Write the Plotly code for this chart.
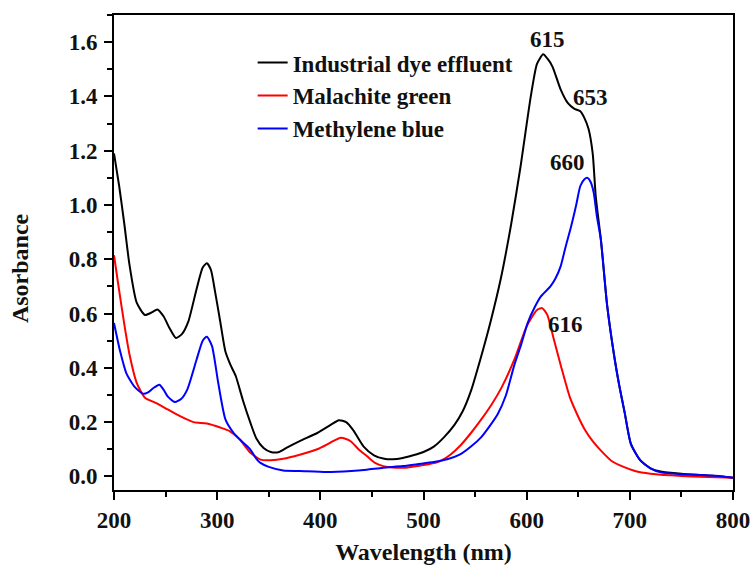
import plotly.graph_objects as go

# ---- data ----
wl_dye = [200, 205, 210, 215, 222, 230, 237, 242, 248, 254, 260, 266, 272, 280, 286, 290, 294, 298, 303, 308,
          313, 318, 325, 332, 338, 345, 352, 360, 368, 380, 397, 410, 418, 425, 432, 442, 452, 462, 470, 480,
          490, 500, 510, 520, 530, 538, 546, 555, 565, 575, 585, 594, 604, 610, 616, 620, 625, 633, 640, 646,
          652, 656, 660, 664, 667, 672, 678, 685, 690, 695, 701, 710, 720, 730, 750, 770, 790, 800]
abs_dye = [1.19, 1.07, 0.93, 0.78, 0.64, 0.595, 0.605, 0.615, 0.59, 0.545, 0.51, 0.525, 0.57, 0.69, 0.77, 0.785, 0.76, 0.68, 0.57, 0.46,
           0.41, 0.37, 0.28, 0.20, 0.14, 0.105, 0.09, 0.09, 0.107, 0.13, 0.16, 0.19, 0.207, 0.20, 0.17, 0.11, 0.078, 0.065, 0.063, 0.068,
           0.078, 0.09, 0.11, 0.145, 0.19, 0.24, 0.315, 0.43, 0.57, 0.73, 0.93, 1.14, 1.40, 1.52, 1.555, 1.54, 1.51, 1.425, 1.375, 1.355,
           1.345, 1.32, 1.28, 1.19, 1.03, 0.87, 0.63, 0.44, 0.33, 0.235, 0.12, 0.06, 0.03, 0.018, 0.01, 0.005, 0.0, -0.005]

wl_mg = [200, 204, 210, 215, 222, 230, 241, 252, 264, 277, 290, 303, 312, 322, 332, 342, 352, 364, 380, 397,
         410, 419, 425, 430, 437, 445, 453, 461, 470, 481, 497, 505, 513, 518, 526, 536, 546, 556, 566, 576,
         588, 600, 610, 615, 620, 626, 633, 642, 650, 656, 664, 672, 682, 694, 705, 720, 740, 760, 800]
abs_mg = [0.815, 0.71, 0.56, 0.45, 0.345, 0.29, 0.27, 0.247, 0.222, 0.20, 0.195, 0.18, 0.167, 0.136, 0.088, 0.062, 0.06, 0.065, 0.08, 0.10,
          0.125, 0.142, 0.138, 0.128, 0.10, 0.075, 0.05, 0.038, 0.033, 0.032, 0.04, 0.045, 0.052, 0.06, 0.08, 0.115, 0.16, 0.21, 0.265, 0.33,
          0.43, 0.553, 0.613, 0.62, 0.595, 0.51, 0.41, 0.29, 0.22, 0.175, 0.13, 0.095, 0.058, 0.035, 0.02, 0.01, 0.004, 0.0, -0.005]

wl_mb = [200, 206, 212, 220, 228, 233, 238, 244, 248, 252, 259, 265, 271, 280, 286, 290, 295, 301, 308, 316,
         325, 332, 338, 342, 350, 364, 380, 406, 430, 445, 461, 480, 494, 510, 523, 535, 546, 556, 565, 572,
         580, 588, 595, 601, 608, 614, 623, 628, 633, 638, 643, 648, 652, 656, 659, 662, 665, 668, 672, 678,
         685, 690, 695, 701, 710, 720, 730, 750, 770, 790, 800]
abs_mb = [0.565, 0.46, 0.38, 0.33, 0.305, 0.31, 0.325, 0.338, 0.32, 0.295, 0.274, 0.285, 0.32, 0.43, 0.50, 0.515, 0.48, 0.345, 0.21, 0.16,
          0.125, 0.10, 0.065, 0.05, 0.035, 0.022, 0.02, 0.016, 0.02, 0.025, 0.032, 0.038, 0.045, 0.053, 0.063, 0.08, 0.11, 0.145, 0.19, 0.23,
          0.30, 0.41, 0.49, 0.566, 0.625, 0.664, 0.70, 0.73, 0.775, 0.85, 0.92, 1.0, 1.07, 1.095, 1.10, 1.085, 1.045, 0.96, 0.87, 0.63,
          0.44, 0.33, 0.235, 0.12, 0.06, 0.03, 0.015, 0.008, 0.005, 0.0, -0.005]

series_names = ["Industrial dye effluent", "Malachite green", "Methylene blue"]
series_colors = ["#000000", "#ff0000", "#0000ff"]

peak_labels = ["615", "653", "660", "616"]
peak_label_x = [620, 662, 640, 638]
peak_label_y = [1.61, 1.395, 1.157, 0.56]

x_title = "Wavelength (nm)"
y_title = "Asorbance"

FONT = "Liberation Serif"

fig = go.Figure()
for (wl, ab), name, col in zip([(wl_dye, abs_dye), (wl_mg, abs_mg), (wl_mb, abs_mb)], series_names, series_colors):
    fig.add_trace(go.Scatter(x=wl, y=ab, mode="lines", name=name, legendgroup=name,
                             line=dict(color=col, width=2, shape="spline", smoothing=0.6)))

for t, x, y in zip(peak_labels, peak_label_x, peak_label_y):
    fig.add_annotation(x=x, y=y, text=t, showarrow=False, xanchor="center", yanchor="middle",
                       font=dict(family=FONT, size=23, color="#111", weight="bold"))

# y-axis title (placed slightly below the axis centre, as in the reference)
fig.add_annotation(xref="paper", yref="paper", x=-0.152, y=0.467, text=y_title, textangle=-90,
                   showarrow=False, xanchor="center", yanchor="middle",
                   font=dict(family=FONT, size=24, color="#111", weight="bold"))

axis_common = dict(showline=True, linecolor="black", linewidth=2, mirror=True, ticks="outside",
                   tickwidth=2, ticklen=8, tickcolor="black", showgrid=False, zeroline=False,
                   automargin=False,
                   tickfont=dict(family=FONT, size=23, color="#111", weight="bold"))

fig.update_xaxes(range=[200, 800], tick0=200, dtick=100,
                 minor=dict(ticks="outside", dtick=50, ticklen=5, tickwidth=2, tickcolor="black"),
                 title=dict(text=x_title, font=dict(family=FONT, size=24, color="#111", weight="bold"), standoff=12),
                 **axis_common)
fig.update_yaxes(range=[-0.05, 1.70], tick0=0, dtick=0.2, tickformat=".1f", ticklabelstandoff=2,
                 minor=dict(ticks="outside", dtick=0.1, ticklen=5, tickwidth=2, tickcolor="black"),
                 **axis_common)

fig.update_layout(
    width=751, height=572,
    margin=dict(l=114, r=18, t=15, b=82, autoexpand=False),
    paper_bgcolor="white", plot_bgcolor="white",
    legend=dict(x=0.224, y=0.945, xanchor="left", yanchor="top", bgcolor="rgba(0,0,0,0)",
                font=dict(family=FONT, size=23, color="#111", weight="bold"),
                tracegroupgap=2, traceorder="normal"),
)

fig.write_html("out.html")
